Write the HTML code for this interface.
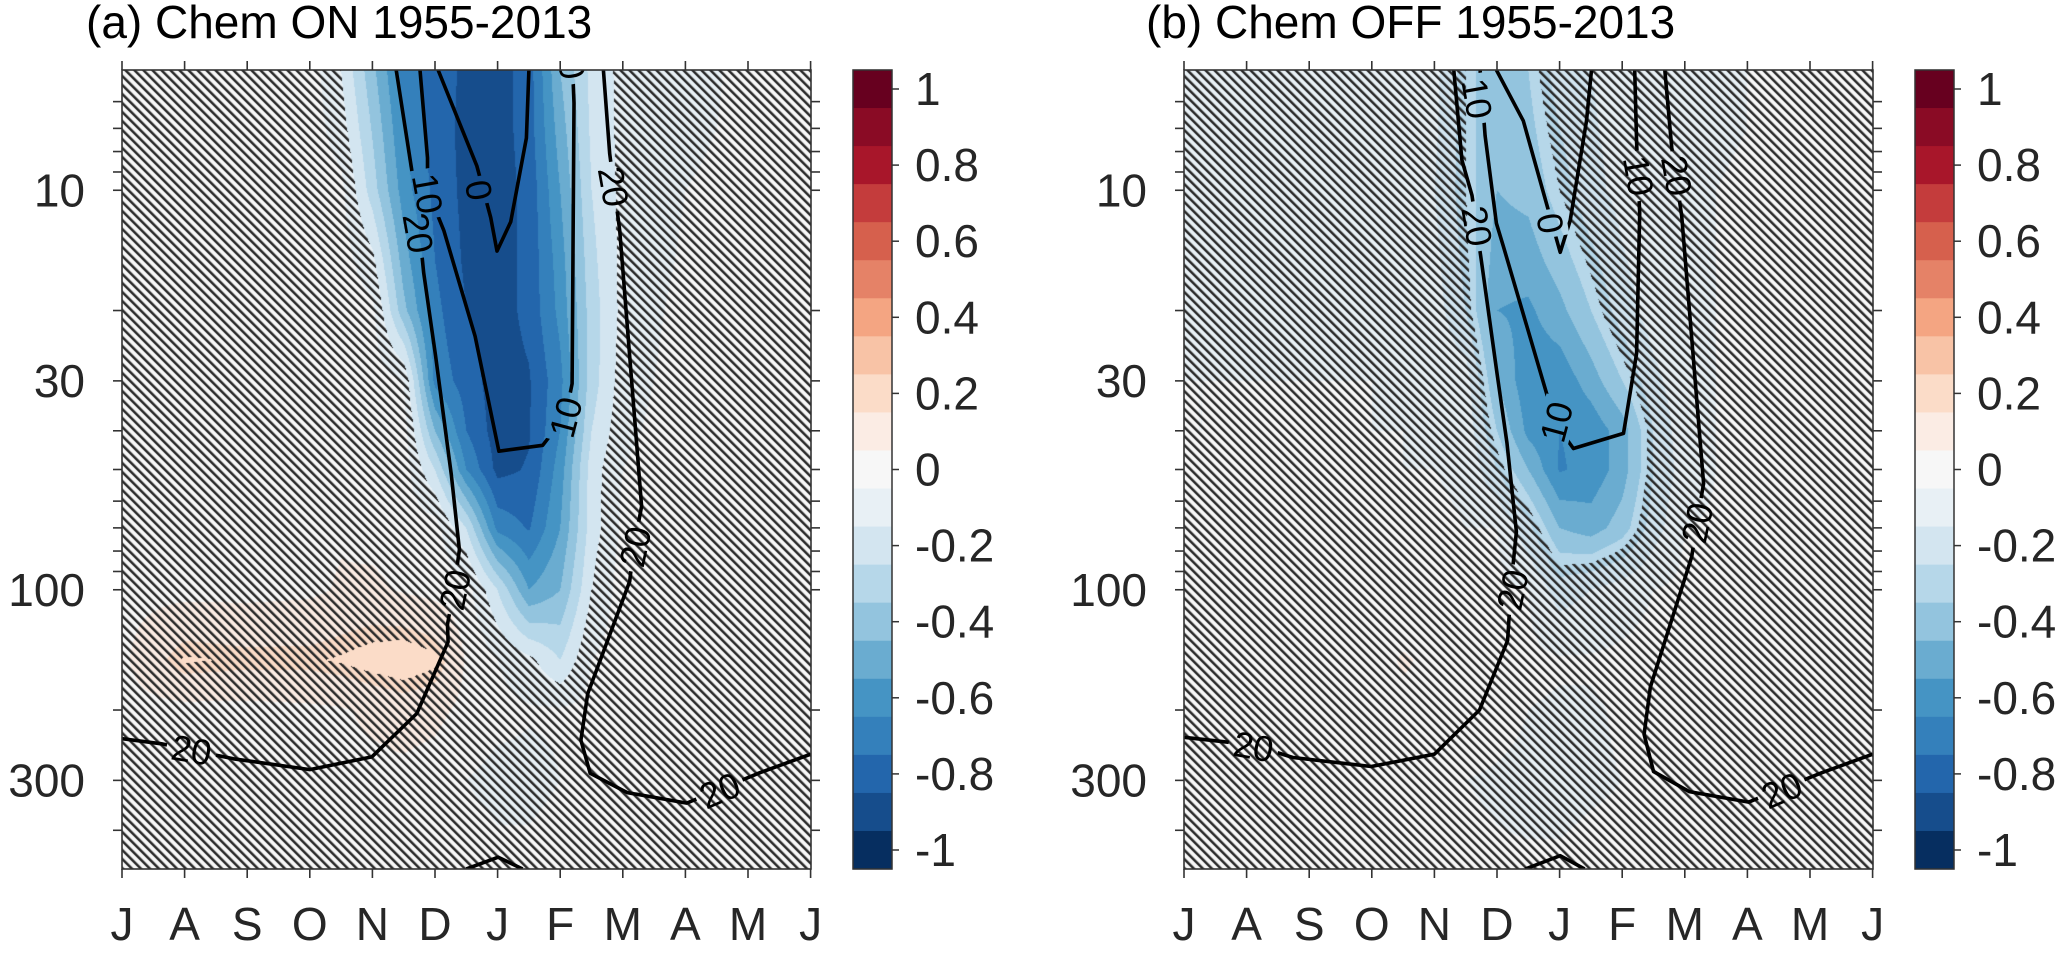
<!DOCTYPE html>
<html>
<head>
<meta charset="utf-8">
<style>
html,body{margin:0;padding:0;background:#fff;}
#wrap{position:relative;width:2067px;height:957px;overflow:hidden;background:#fff;}
canvas{position:absolute;top:70px;}
#cva{left:122px;}
#cvb{left:1184px;}
svg{position:absolute;left:0;top:0;}
text{font-family:"Liberation Sans",Arial,sans-serif;}
</style>
</head>
<body>
<div id="wrap">
<canvas id="cva" width="689" height="799"></canvas>
<canvas id="cvb" width="689" height="799"></canvas>
<svg id="svg" width="2067" height="957" viewBox="0 0 2067 957">
  <defs>
    <clipPath id="clipA"><rect x="122" y="70" width="689" height="799"/></clipPath>
    <clipPath id="clipB"><rect x="1184" y="70" width="689" height="799"/></clipPath>
    <mask id="maskA" maskUnits="userSpaceOnUse" x="0" y="0" width="2067" height="957"><rect x="0" y="0" width="2067" height="957" fill="#fff"/><g id="maskAg"></g></mask>
    <mask id="maskB" maskUnits="userSpaceOnUse" x="0" y="0" width="2067" height="957"><rect x="0" y="0" width="2067" height="957" fill="#fff"/><g id="maskBg"></g></mask>
  </defs>
  <text x="86" y="38" font-size="46" fill="#000">(a) Chem ON 1955-2013</text>
  <text x="1146" y="38" font-size="46" fill="#000">(b) Chem OFF 1955-2013</text>
  <g id="panelA"></g>
  <g id="panelB"></g>
</svg>
</div>
<script>
// ---------- data ----------
const monthLabels = ['J','A','S','O','N','D','J','F','M','A','M','J'];
const pressureTickLabels = [10, 30, 100, 300];
const pressureMinorTicks = [6,7,8,9,10,20,30,40,50,60,70,80,90,100,200,300,400];
const cbValues = [1,0.9,0.8,0.7,0.6,0.5,0.4,0.3,0.2,0.1,0,-0.1,-0.2,-0.3,-0.4,-0.5,-0.6,-0.7,-0.8,-0.9,-1];
const cbTickValues = [1,0.8,0.6,0.4,0.2,0,-0.2,-0.4,-0.6,-0.8,-1];
const cbTickLabels = ['1','0.8','0.6','0.4','0.2','0','-0.2','-0.4','-0.6','-0.8','-1'];
const bandColors = ['#062e60','#164d8c','#2366ac','#3480bb','#4594c4','#6aacd0','#93c4de','#b6d7e9','#d3e5f0','#e8f0f5','#f7f7f7','#fbece4','#fbdcc8','#f8c3a6','#f4a582','#e58267','#d6604d','#c43c3c','#a8162a','#8a0b25','#67001f'];

const gridMonths = [0,1,2,3,3.5,4,4.5,5,5.5,6,6.5,7,7.5,8,8.5,9,10,11];
const gridPressures = [5,7,10,15,20,30,40,50,70,100,150,200,300,500];

const fieldA = [
 [0.02,0.02,0.02,0,-0.15,-0.42,-0.7,-0.8,-0.87,-0.9,-0.8,-0.45,-0.22,-0.12,-0.1,-0.08,-0.03,0],
 [0.02,0.02,0.02,0,-0.1,-0.36,-0.65,-0.8,-0.88,-0.9,-0.8,-0.5,-0.23,-0.12,-0.09,-0.07,-0.03,0],
 [0.02,0.02,0.02,0,-0.02,-0.3,-0.6,-0.78,-0.88,-0.9,-0.82,-0.55,-0.25,-0.12,-0.08,-0.05,-0.02,0],
 [0.02,0.02,0.02,0.01,0,-0.12,-0.5,-0.75,-0.87,-0.9,-0.82,-0.6,-0.28,-0.12,-0.07,-0.04,-0.02,0],
 [0.02,0.02,0.02,0.01,0,-0.02,-0.42,-0.72,-0.85,-0.9,-0.82,-0.62,-0.3,-0.12,-0.06,-0.03,0,0],
 [0.02,0.02,0.02,0.01,0,0,-0.05,-0.68,-0.8,-0.9,-0.86,-0.68,-0.3,-0.1,-0.05,-0.02,0,0],
 [0.02,0.02,0.02,0.01,0,0,0,-0.45,-0.75,-0.9,-0.86,-0.65,-0.25,-0.08,-0.03,0,0,0],
 [0.02,0.02,0.02,0.02,0.01,0,0,-0.25,-0.65,-0.88,-0.84,-0.6,-0.2,-0.05,0,0,0,0],
 [0.02,0.02,0.02,0.02,0.04,0.02,0,0,-0.25,-0.68,-0.76,-0.55,-0.2,-0.03,0,0,0,0],
 [0.02,0.02,0.02,0.03,0.06,0.07,0.04,0.02,0,-0.25,-0.55,-0.45,-0.15,0,0,0,0,0],
 [0.03,0.2,0.18,0.18,0.2,0.23,0.25,0.21,0.04,-0.05,-0.12,-0.25,-0.05,0,0,0,0,0],
 [0.02,0.02,0.02,0.03,0.04,0.07,0.1,0.08,0.02,-0.02,-0.04,-0.04,-0.02,0,0,0,0,0],
 [0.02,0.02,0.02,0.02,0.02,0.02,0.02,0,-0.05,-0.08,-0.08,-0.05,0,0,0,0,0,0],
 [0.02,0.02,0.02,0.02,0.02,0.02,0,0,0,-0.02,-0.02,0,0,0,0,0,0,0]
];
const fieldB = [
 [-0.06,-0.07,-0.07,-0.05,-0.08,-0.12,-0.3,-0.45,-0.35,-0.2,-0.15,-0.12,-0.1,-0.08,-0.06,-0.05,-0.03,-0.02],
 [-0.06,-0.07,-0.07,-0.06,-0.08,-0.13,-0.3,-0.45,-0.38,-0.25,-0.16,-0.12,-0.1,-0.07,-0.06,-0.05,-0.03,-0.02],
 [-0.06,-0.07,-0.07,-0.06,-0.08,-0.15,-0.3,-0.45,-0.42,-0.3,-0.18,-0.12,-0.1,-0.06,-0.05,-0.04,-0.03,-0.02],
 [-0.06,-0.07,-0.07,-0.06,-0.08,-0.12,-0.28,-0.5,-0.5,-0.4,-0.28,-0.16,-0.1,-0.06,-0.05,-0.04,-0.03,-0.02],
 [-0.06,-0.06,-0.06,-0.06,-0.07,-0.1,-0.25,-0.55,-0.57,-0.48,-0.35,-0.2,-0.1,-0.06,-0.05,-0.04,-0.03,-0.02],
 [-0.05,-0.05,-0.05,-0.05,-0.06,-0.08,-0.1,-0.45,-0.62,-0.62,-0.5,-0.35,-0.18,-0.08,-0.05,-0.04,-0.03,-0.02],
 [-0.05,-0.05,-0.05,-0.05,-0.05,-0.06,-0.08,-0.35,-0.58,-0.65,-0.62,-0.5,-0.25,-0.08,-0.05,-0.04,-0.03,-0.02],
 [-0.04,-0.04,-0.04,-0.04,-0.05,-0.05,-0.06,-0.25,-0.45,-0.66,-0.62,-0.5,-0.25,-0.1,-0.05,-0.03,-0.02,-0.02],
 [-0.03,-0.03,-0.03,-0.03,-0.04,-0.04,-0.05,-0.05,-0.22,-0.45,-0.5,-0.4,-0.2,-0.05,-0.04,-0.03,-0.02,-0.02],
 [-0.02,-0.02,-0.02,-0.02,-0.02,-0.03,-0.03,-0.03,-0.05,-0.2,-0.15,-0.1,-0.05,-0.03,-0.02,-0.02,-0.01,0],
 [0,0,0,0.01,0.06,0.03,0,-0.02,-0.03,-0.04,-0.04,-0.03,-0.02,-0.02,-0.02,-0.01,0.02,0.04],
 [0,0,0,0.01,0.03,0.02,0,-0.02,-0.05,-0.06,-0.06,-0.04,-0.02,-0.02,-0.01,0,0.02,0.03],
 [-0.03,-0.03,-0.03,-0.03,-0.02,-0.03,-0.05,-0.06,-0.07,-0.07,-0.06,-0.05,-0.03,-0.02,-0.01,0,0,0],
 [-0.03,-0.03,-0.03,-0.03,-0.03,-0.03,-0.03,-0.04,-0.04,-0.04,-0.03,-0.03,-0.02,-0.02,-0.02,-0.01,0,0]
];
const sigThresholdA = [-0.15, 0.19];
const sigThresholdB = [-0.3, 0.5];

// contour lines: [month index, pressure hPa]
const contourA20West = [[4.38,5],[4.70,10.5],[4.82,16.1],[5.01,26],[5.26,51.5],[5.39,79.4],[5.30,100],[5.20,122],[5.21,135],[4.71,204],[3.99,262],[3.0,282],[1.78,265],[1.11,252],[0.63,243],[0,236]];
const contourA10 = [[4.76,5],[4.88,8.3],[4.88,10],[5.14,12.6],[5.64,23.2],[6.02,45],[6.72,43.5],[7.09,36.6],[7.19,30.5],[7.22,6.05],[7.2,5]];
const contourA0 = [[5.05,5],[5.67,8.7],[5.89,11.7],[5.99,14.2],[6.21,12],[6.46,7.4],[6.5,5]];
const contourA20East = [[7.69,5],[7.79,8.1],[7.95,12.6],[8.30,61.8],[8.17,79.4],[8.11,95.3],[7.44,182],[7.33,238],[7.48,288],[8.07,322],[9.02,342],[10.19,287],[11,258]];
const contourA20Peak = [[5.5,500],[6.01,467],[6.4,500]];
const labelsA = [[4.73,12.8,'20',80],[5.32,100,'20',-78],[1.11,252,'20',10],[4.88,10.2,'10',80],[7.09,37,'10',-75],[7.16,4.7,'10',80],[5.70,10,'0',80],[7.85,9.8,'20',80],[8.2,78,'20',-78],[9.55,318,'20',-23]];

const contourB20West = [[4.31,5],[4.44,8.4],[4.60,10.3],[4.76,15.4],[5.0,28.7],[5.16,43],[5.31,71.6],[5.23,95],[5.17,134],[4.72,200],[4.0,258],[2.99,277],[1.74,263],[1.11,245],[0.63,240],[0,234]];
const contourB10 = [[4.73,5],[4.81,7.3],[4.99,12.1],[5.10,13.8],[5.79,32.2],[5.93,38.3],[6.22,44.3],[7.02,40.6],[7.23,25.6],[7.28,11.4],[7.23,7.6],[7.20,5]];
const contourB0 = [[4.99,5],[5.42,6.7],[5.79,10.8],[6.01,14.3],[6.17,11.9],[6.43,6.7],[6.51,5]];
const contourB20East = [[7.68,5],[7.79,7.8],[7.95,11.6],[8.30,54.2],[8.19,68.2],[8.11,82.7],[7.45,175],[7.35,230],[7.5,285],[8.07,320],[9.02,340],[10.19,287],[11,258]];
const contourB20Peak = [[5.45,500],[6.01,463],[6.4,500]];
const labelsB = [[4.68,12.3,'20',80],[5.25,100,'20',-78],[1.11,247,'20',10],[4.68,5.9,'10',80],[5.95,38,'10',-75],[7.26,9.2,'10',80],[5.85,12.1,'0',80],[7.87,9.2,'20',80],[8.2,68,'20',-78],[9.55,318,'20',-23]];

// ---------- geometry ----------
const PLOT_TOP = 70, PLOT_H = 799, PLOT_W = 689, MONTH_W = 62.6, DECADE = 399.5;
const PANEL_A_X = 122, PANEL_B_X = 1184;
const CB_A_X = 853, CB_B_X = 1915, CB_W = 39;
const NS = 'http://www.w3.org/2000/svg';
function xMonth(x0, m) { return x0 + MONTH_W * m; }
function yPres(p) { return PLOT_TOP + DECADE * (Math.log10(p) - Math.log10(5)); }
function yCb(v) { return 89 + (1 - v) * 380.5; }
function mk(tag, attrs, parent) {
  const e = document.createElementNS(NS, tag);
  for (const k in attrs) e.setAttribute(k, attrs[k]);
  parent.appendChild(e);
  return e;
}
function hexRgb(h) { return [parseInt(h.slice(1,3),16), parseInt(h.slice(3,5),16), parseInt(h.slice(5,7),16)]; }
const bandRgb = bandColors.map(hexRgb);

// ---------- filled field ----------
function renderField(canvas, field, x0, thr) {
  const ctx = canvas.getContext('2d');
  const img = ctx.createImageData(PLOT_W, PLOT_H);
  const d = img.data;
  const lp = gridPressures.map(p => Math.log10(p));
  const colIdx = [], colT = [];
  for (let px = 0; px < PLOT_W; px++) {
    const m = (px + 0.5) / MONTH_W;
    let j = 0; while (j < gridMonths.length - 2 && m > gridMonths[j + 1]) j++;
    colIdx.push(j);
    colT.push(Math.min(1, Math.max(0, (m - gridMonths[j]) / (gridMonths[j + 1] - gridMonths[j]))));
  }
  for (let py = 0; py < PLOT_H; py++) {
    const logp = Math.log10(5) + (py + 0.5) / DECADE;
    let i = 0; while (i < lp.length - 2 && logp > lp[i + 1]) i++;
    const t = Math.min(1, Math.max(0, (logp - lp[i]) / (lp[i + 1] - lp[i])));
    const r0 = field[i], r1 = field[i + 1];
    for (let px = 0; px < PLOT_W; px++) {
      const j = colIdx[px], u = colT[px];
      const v0 = r0[j] * (1 - u) + r0[j + 1] * u;
      const v1 = r1[j] * (1 - u) + r1[j + 1] * u;
      const v = v0 * (1 - t) + v1 * t;
      let b = Math.round(v * 10); if (b < -10) b = -10; if (b > 10) b = 10;
      let c = bandRgb[b + 10];
      const sig = (v <= thr[0]) || (v >= thr[1]);
      const k = (py * PLOT_W + px) * 4;
      let r = c[0], g = c[1], bl = c[2];
      if (!sig) {
        const gx = x0 + px, gy = PLOT_TOP + py;
        const f = (((gx - gy) % 9) + 9) % 9;
        let a = 0;
        if (f < 3) a = 1; else if (f < 3.6) a = 0.5; else if (f > 8.6) a = 0.4;
        r = r * (1 - a) + 38 * a; g = g * (1 - a) + 38 * a; bl = bl * (1 - a) + 38 * a;
      }
      d[k] = r; d[k + 1] = g; d[k + 2] = bl; d[k + 3] = 255;
    }
  }
  ctx.putImageData(img, 0, 0);
}
renderField(document.getElementById('cva'), fieldA, PANEL_A_X, sigThresholdA);
renderField(document.getElementById('cvb'), fieldB, PANEL_B_X, sigThresholdB);

// ---------- axes, contours, colorbar ----------
function buildPanel(g, x0, clipId, maskId, maskG, lines, labels, cbX, tag) {
  const cg = mk('g', {'clip-path': 'url(#' + clipId + ')'}, g);
  
  
  const lg = mk('g', {mask: 'url(#' + maskId + ')', fill: 'none', stroke: '#000', 'stroke-width': 3.6, 'stroke-linejoin': 'round', 'stroke-linecap': 'butt'}, cg);
  lines.forEach(function (ln) {
    const dstr = ln.pts.map((p, i) => (i ? 'L' : 'M') + xMonth(x0, p[0]).toFixed(1) + ',' + yPres(p[1]).toFixed(1)).join(' ');
    const path = mk('path', {d: dstr}, lg);
    
    
  });
  const tg = mk('g', {}, cg);
  labels.forEach(function (lb) {
    const x = xMonth(x0, lb[0]), y = yPres(lb[1]);
    const w = lb[2].length > 1 ? 50 : 28;
    mk('rect', {x: x - w / 2, y: y - 17, width: w, height: 34, fill: '#000', transform: 'rotate(' + lb[3] + ' ' + x + ' ' + y + ')'}, maskG);
    const t = mk('text', {x: x, y: y, 'font-size': 36, 'text-anchor': 'middle', 'dominant-baseline': 'central', fill: '#000', transform: 'rotate(' + lb[3] + ' ' + x + ' ' + y + ')'}, tg);
    t.textContent = lb[2];
    
    
  });
  const fr = mk('rect', {x: x0, y: PLOT_TOP, width: PLOT_W, height: PLOT_H, fill: 'none', stroke: '#333', 'stroke-width': 1.6}, g);
  
  
  const ticks = mk('g', {stroke: '#333', 'stroke-width': 1.6}, g);
  
  
  monthLabels.forEach(function (lab, i) {
    const x = xMonth(x0, i);
    mk('line', {x1: x, y1: PLOT_TOP + PLOT_H, x2: x, y2: PLOT_TOP + PLOT_H + 9}, ticks);
    mk('line', {x1: x, y1: PLOT_TOP, x2: x, y2: PLOT_TOP - 9}, ticks);
    const t = mk('text', {x: x, y: 940, 'font-size': 46, 'text-anchor': 'middle', fill: '#262626'}, g);
    t.textContent = lab;
    
    
  });
  pressureMinorTicks.forEach(function (p) {
    const y = yPres(p);
    mk('line', {x1: x0, y1: y, x2: x0 - 9, y2: y}, ticks);
    mk('line', {x1: x0 + PLOT_W, y1: y, x2: x0 + PLOT_W + 9, y2: y}, ticks);
  });
  pressureTickLabels.forEach(function (p) {
    const t = mk('text', {x: x0 - 37, y: yPres(p), 'font-size': 46, 'text-anchor': 'end', 'dominant-baseline': 'central', fill: '#262626'}, g);
    t.textContent = String(p);
    
    
  });
  const cb = mk('g', {}, g);
  
  
  cbValues.forEach(function (v) {
    const b = Math.round(v * 10) + 10;
    const r = mk('rect', {x: cbX, y: yCb(v + 0.05), width: CB_W, height: yCb(v - 0.05) - yCb(v + 0.05) + 0.5, fill: bandColors[b]}, cb);
    
    
  });
  mk('rect', {x: cbX, y: yCb(1.05), width: CB_W, height: yCb(-1.05) - yCb(1.05), fill: 'none', stroke: '#333', 'stroke-width': 1.5}, cb);
  cbTickValues.forEach(function (v, i) {
    const y = yCb(v);
    mk('line', {x1: cbX + CB_W, y1: y, x2: cbX + CB_W + 7, y2: y, stroke: '#333', 'stroke-width': 1.5}, cb);
    const t = mk('text', {x: cbX + CB_W + 23, y: y, 'font-size': 46, 'dominant-baseline': 'central', fill: '#262626'}, cb);
    t.textContent = cbTickLabels[i];
    
    
  });
}

buildPanel(document.getElementById('panelA'), PANEL_A_X, 'clipA', 'maskA', document.getElementById('maskAg'),
  [{name: '20-west', pts: contourA20West}, {name: '10', pts: contourA10}, {name: '0', pts: contourA0}, {name: '20-east', pts: contourA20East}, {name: '20-peak', pts: contourA20Peak}],
  labelsA, CB_A_X, 'panel-a');
buildPanel(document.getElementById('panelB'), PANEL_B_X, 'clipB', 'maskB', document.getElementById('maskBg'),
  [{name: '20-west', pts: contourB20West}, {name: '10', pts: contourB10}, {name: '0', pts: contourB0}, {name: '20-east', pts: contourB20East}, {name: '20-peak', pts: contourB20Peak}],
  labelsB, CB_B_X, 'panel-b');
</script>
</body>
</html>
